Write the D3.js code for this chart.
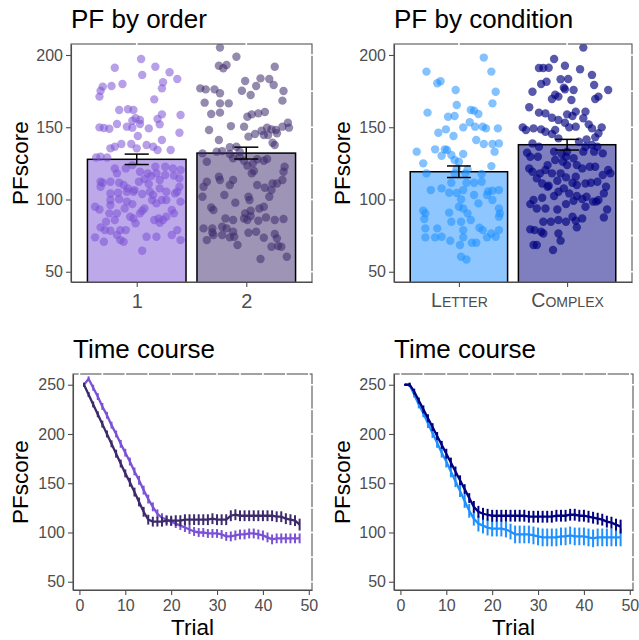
<!DOCTYPE html>
<meta charset="utf-8">
<style>
body { margin: 0; background: #fff; }
svg text { font-family: "Liberation Sans", Arial, sans-serif; }
.tick text { fill: #4d4d4d; }
.tick line, .domain { stroke: #4d4d4d; stroke-width: 1.1; }
</style>
<body>
<script src="https://d3js.org/d3.v7.min.js"></script>
<script>
// ---- bar panels ----
var orderCats = ["1", "2"];
var orderMeans = [127.8, 132.1];
var orderSE = [3.6, 4.1];
var orderColors = ["#7b52d6", "#3d2a6b"];

var condCats = ["Letter", "Complex"];
var condMeans = [119.2, 137.9];
var condSE = [4.0, 3.7];
var condColors = ["#1e90ff", "#000080"];

// jittered individual scores: [offset in category widths, PFscore]
var order1Pts = [[0.04,197.2],[-0.20,191.2],[0.17,191.9],[0.05,186.2],[0.30,188.0],[0.37,183.4],[-0.33,175.3],[-0.31,178.1],
  [-0.23,178.5],[-0.13,179.9],[0.24,181.1],[0.23,176.9],[-0.34,171.2],[0.16,169.3],[-0.16,161.9],[-0.08,162.4],[-0.03,161.9],
  [-0.01,156.2],[-0.04,154.5],[0.03,155.0],[-0.09,150.4],[0.03,152.2],[-0.34,149.9],[-0.30,149.5],[-0.25,149.0],[-0.18,152.2],
  [-0.04,149.7],[0.19,155.7],[0.21,152.0],[0.23,158.9],[0.40,158.5],[0.01,143.9],[0.11,149.2],[0.23,141.2],[0.39,146.2],
  [-0.24,135.4],[-0.20,136.5],[-0.14,138.4],[-0.05,138.4],[0.00,135.4],[0.09,137.7],[0.15,136.5],[0.19,134.2],[0.31,134.2],
  [-0.37,129.1],[-0.33,129.6],[-0.27,129.1],[-0.20,121.5],[-0.18,118.1],[-0.10,121.5],[-0.04,123.8],[0.03,119.2],[0.10,118.1],
  [0.17,122.7],[0.18,118.1],[0.26,122.7],[0.33,121.5],[0.40,120.4],[-0.33,112.3],[-0.31,111.6],[-0.24,112.3],[-0.16,111.6],
  [-0.12,110.0],[-0.08,107.7],[-0.02,106.5],[0.02,112.3],[0.07,114.1],[0.11,110.7],[0.13,116.2],[0.21,113.5],[0.26,116.9],
  [0.34,116.5],[0.39,114.6],[-0.33,108.8],[-0.24,104.2],[-0.17,104.7],[-0.09,105.4],[-0.03,105.4],[0.05,103.8],[0.12,105.4],
  [0.15,103.1],[0.21,107.7],[0.27,105.4],[0.35,104.2],[0.39,108.8],[0.37,105.4],[-0.24,99.6],[-0.24,96.1],[-0.16,100.1],
  [-0.09,98.5],[-0.04,96.8],[0.07,93.8],[0.14,99.6],[0.18,97.3],[0.23,99.6],[0.27,99.6],[0.32,92.7],[0.40,98.5],[-0.38,95.0],
  [-0.34,93.1],[-0.25,90.4],[-0.18,90.4],[-0.11,93.8],[-0.06,88.1],[0.03,90.4],[0.05,92.2],[0.20,86.9],[0.21,83.9],[0.27,88.1],
  [0.34,90.4],[-0.28,84.6],[-0.20,85.8],[-0.03,86.9],[-0.15,78.8],[-0.10,78.8],[-0.01,83.5],[0.16,85.8],[0.24,85.8],
  [-0.33,80.7],[-0.29,78.8],[-0.24,78.4],[-0.18,75.4],[-0.15,71.9],[-0.12,70.8],[0.09,74.2],[0.18,74.2],[0.37,78.8],
  [0.32,75.4],[0.40,71.9],[-0.38,73.8],[-0.30,70.8],[0.05,64.5]];

var order2Pts = [[-0.24,205.1],[-0.18,193.1],[-0.09,198.8],[-0.25,192.6],[-0.21,190.8],[0.26,191.9],[-0.01,182.0],[0.13,183.8],
  [0.21,183.4],[0.25,179.2],[-0.42,176.9],[-0.37,176.2],[-0.24,173.5],[-0.29,176.2],[-0.04,175.3],[0.04,172.3],[0.09,178.5],
  [0.34,175.1],[0.33,168.4],[-0.38,167.0],[-0.24,166.5],[-0.16,166.5],[-0.32,159.2],[-0.24,160.1],[-0.14,150.8],[-0.02,150.4],
  [0.01,157.3],[0.05,158.9],[0.11,159.6],[0.17,160.5],[0.19,149.7],[0.23,148.5],[0.27,148.1],[0.28,145.8],[0.33,150.4],
  [0.38,153.1],[0.39,149.7],[-0.34,148.1],[-0.25,141.2],[-0.15,136.1],[-0.09,136.5],[-0.06,133.1],[0.02,143.5],[0.08,145.3],
  [0.14,147.6],[0.16,144.6],[0.20,144.6],[0.24,139.3],[0.26,137.7],[-0.40,131.9],[-0.36,126.1],[-0.27,133.1],[-0.22,133.5],
  [-0.15,131.5],[-0.12,128.5],[-0.06,129.6],[-0.02,126.8],[0.01,123.4],[0.06,125.0],[0.10,127.8],[0.16,126.8],[0.19,128.0],
  [0.07,119.7],[0.05,118.1],[-0.36,112.3],[-0.39,108.8],[-0.25,115.8],[-0.24,113.5],[-0.15,110.0],[-0.12,113.5],[0.10,110.0],
  [0.17,108.1],[0.24,111.1],[0.28,111.1],[0.33,113.5],[0.35,122.7],[0.34,119.2],[-0.40,101.9],[-0.32,94.5],[-0.30,92.7],
  [-0.20,103.1],[-0.10,97.8],[0.02,101.9],[0.03,99.6],[0.04,92.2],[0.12,93.8],[0.16,95.0],[0.21,101.9],[0.23,106.5],
  [-0.19,86.9],[-0.12,85.8],[-0.01,90.4],[0.01,85.8],[-0.02,86.9],[0.04,88.5],[0.11,85.3],[0.18,87.6],[0.26,85.8],[0.34,86.5],
  [-0.39,80.0],[-0.36,71.9],[-0.31,80.0],[-0.31,77.2],[-0.22,81.1],[-0.18,80.0],[-0.12,77.7],[-0.11,74.2],[-0.08,68.5],
  [-0.30,75.4],[-0.22,75.4],[-0.15,73.8],[0.02,77.0],[0.09,77.7],[0.16,73.5],[0.26,76.1],[0.28,73.1],[0.29,67.8],[0.23,67.3],
  [0.32,67.3],[0.37,60.4],[0.13,58.8]];

var letterPts = [[-0.39,133.1],[-0.30,188.5],[-0.29,160.1],[-0.20,180.4],[-0.17,181.8],[-0.19,146.2],[-0.22,134.7],[-0.33,125.0],
  [-0.30,118.1],[-0.26,106.5],[-0.33,92.2],[-0.31,90.4],[-0.32,86.5],[-0.31,80.0],[-0.31,73.8],[-0.22,73.8],[-0.20,80.0],
  [-0.16,74.2],[-0.08,71.5],[-0.16,107.7],[-0.07,111.6],[-0.04,118.1],[-0.02,121.5],[-0.02,104.5],[-0.09,104.7],[0.02,100.1],
  [0.04,106.5],[0.07,111.6],[0.06,118.1],[0.08,120.8],[0.14,111.6],[0.21,117.6],[0.21,112.3],[0.27,105.6],[0.31,106.1],
  [0.37,106.5],[0.14,103.1],[0.18,97.3],[0.26,103.1],[0.31,99.6],[0.37,93.8],[0.38,90.4],[0.37,88.1],[0.19,80.5],[0.22,78.8],
  [0.30,76.5],[0.26,73.8],[0.34,74.2],[0.37,78.8],[-0.07,84.6],[0.02,84.6],[0.04,78.8],[0.04,73.8],[0.08,90.4],[0.11,85.8],
  [0.04,93.8],[0.00,95.0],[0.12,70.1],[0.16,70.1],[0.01,68.5],[0.02,60.4],[0.07,58.5],[0.16,141.2],[0.22,150.4],[0.25,149.2],
  [0.23,138.4],[0.31,138.4],[0.37,138.8],[0.36,149.2],[0.33,133.1],[0.30,123.1],[0.23,198.2],[0.30,188.5],[0.34,174.6],
  [0.31,166.5],[0.18,159.2],[0.14,161.5],[0.11,161.9],[0.15,150.4],[0.10,153.4],[0.04,149.9],[0.04,131.5],[0.00,126.1],
  [-0.04,127.3],[-0.07,130.8],[-0.11,134.2],[-0.13,134.7],[-0.16,130.3],[-0.03,175.8],[-0.02,165.4],[-0.04,157.8],
  [-0.10,157.3],[-0.12,148.5],[-0.05,143.9],[-0.09,90.9]];

var complexPts = [[0.15,205.1],[-0.12,197.2],[-0.02,192.6],[0.12,190.1],[-0.22,191.0],[-0.26,191.0],[-0.17,191.2],[-0.32,174.6],
  [-0.24,179.9],[-0.19,181.5],[-0.06,183.2],[0.01,183.4],[-0.03,177.4],[-0.02,176.2],[0.06,175.8],[0.23,186.2],[0.25,179.2],
  [0.38,175.8],[0.26,169.5],[0.29,171.2],[-0.14,169.5],[-0.11,172.5],[-0.08,171.2],[0.04,168.8],[-0.35,163.8],[-0.26,160.1],
  [-0.20,159.6],[-0.14,156.6],[-0.08,155.0],[0.00,158.9],[0.05,157.8],[0.08,160.8],[0.17,160.8],[-0.41,149.9],[-0.38,148.1],
  [-0.31,149.2],[-0.24,148.5],[-0.20,146.9],[-0.11,148.1],[-0.02,153.1],[0.02,149.9],[0.08,150.4],[0.15,156.2],[0.20,152.0],
  [0.23,149.2],[0.29,145.8],[0.32,149.9],[0.18,141.6],[0.26,143.0],[-0.37,132.4],[-0.34,129.6],[-0.27,129.6],[-0.18,123.8],
  [-0.12,133.1],[-0.05,131.5],[-0.01,129.6],[0.00,133.1],[0.06,128.5],[0.15,133.1],[0.23,137.7],[0.25,133.1],[0.28,136.5],
  [0.33,131.9],[0.38,120.4],[0.40,118.1],[0.33,116.9],[0.26,122.7],[0.21,122.7],[0.14,121.5],[0.09,123.8],[0.00,123.8],
  [-0.04,126.1],[-0.11,127.3],[-0.14,118.1],[-0.20,120.4],[-0.25,118.1],[-0.32,119.2],[-0.35,121.5],[-0.28,114.6],[-0.23,111.1],
  [-0.17,109.5],[-0.09,113.0],[-0.01,115.3],[0.05,111.6],[0.09,110.0],[0.17,111.1],[0.22,111.6],[0.28,112.3],[0.36,108.8],
  [0.34,104.2],[0.29,99.6],[0.24,98.5],[0.18,101.9],[0.14,100.3],[0.09,102.4],[0.02,104.2],[-0.03,107.7],[-0.08,105.4],
  [-0.12,102.4],[-0.18,108.8],[-0.23,101.2],[-0.31,99.6],[-0.34,96.8],[-0.28,93.8],[-0.20,93.8],[-0.09,93.1],[-0.01,96.8],
  [0.06,99.1],[0.17,95.0],[0.27,98.5],[0.37,93.1],[0.34,87.6],[0.05,88.1],[0.08,85.3],[-0.01,84.6],[-0.08,85.8],[-0.15,84.6],
  [-0.22,84.6],[-0.34,79.3],[-0.30,78.8],[-0.24,77.7],[-0.22,76.5],[-0.08,76.5],[-0.06,71.5],[0.09,80.7],[0.14,86.9],
  [-0.31,68.5],[-0.28,68.5],[-0.13,65.0],[0.08,115.8],[-0.06,118.1],[-0.32,138.8],[-0.26,136.5],[-0.14,145.3],[-0.08,142.3],
  [0.11,140.0],[0.17,136.5]];

// ---- time course ----
var trials = d3.range(1, 49);
var order1Curve = [250,256,247,238,228,219,209,200,190,181,172,162,153,143,134,126,119,115,113,111,109,107,105,103,
  101,100,100,99,99,99,98,96,96,97,98,98,99,99,98,97,95,93,94,94,94,94,94,94];
var order1CurveSE = [2,2.5,3,3.5,3.5,3.5,3.5,3.5,4,4,4,4,4.5,4.5,4.5,4.5,4.5,4.5,4.5,4.5,4.5,4.5,4.5,4.5,4.5,4.5,4.5,4.5,
  4.5,4.5,4.5,4.5,5,5,5,5,5,5,5,5,5,5,5,5,5,5,5,5];
var order2Curve = [250,240,230,220,210,200,190,180,170,160,151,141,131,121,113,111,111,111,112,112,112,112,113,113,
  113,113,113,113,114,113,113,113,117,118,117,117,117,117,117,117,117,117,116,116,114,113,112,108];
var order2CurveSE = [2,2.5,3,3,3.5,3.5,3.5,4,4,4,4.5,4.5,4.5,5,5,5,5,5,5,5,5.5,5.5,5.5,5.5,5.5,5.5,5.5,5.5,5.5,5.5,5.5,5.5,
  5.5,5.5,5.5,5.5,5.5,5.5,5.5,5.5,5.5,5.5,5.5,5.5,5.5,5.5,5.5,6];
var letterCurve = [250,250,240,230,221,211,201,191,181,172,162,152,142,132,122,114,109,107,105,104,104,104,103,101,
  98,98,98,98,97,96,95,95,95,95,96,96,97,96,96,96,95,94,95,95,95,95,95,95];
var letterCurveSE = [1,2,3,4,4,5,5,5,5,6,6,6,6,7,7,7,8,8,8,8,8,8,8,8,9,9,9,9,9,9,9,9,9,9,9,9,9,9,9,9,9,9,9,9,9,9,9,9];
var complexCurve = [250,250,243,234,225,216,207,198,189,180,171,162,153,144,135,126,121,119,118,117,117,117,117,117,
  117,117,117,116,116,116,116,116,116,117,117,117,118,118,117,117,116,115,114,113,111,110,108,106];
var complexCurveSE = [1,2,3,3,4,4,4,4,4,5,5,5,5,5,5,6,6,6,6,6,6,6,6,6,6,6,6,6,6,6,6,6,6,6,6,6,6,6,6,6,6,6,6,6,6,6,6,7];

var svg = d3.select("body").append("svg")
    .attr("width", 639)
    .attr("height", 640);
var defs = svg.append("defs");

function makeClip(id, box) {
  defs.append("clipPath").attr("id", id)
    .append("rect")
      .attr("x", box.x0).attr("y", box.y0)
      .attr("width", box.x1 - box.x0).attr("height", box.y1 - box.y0);
}

// panel outline with little white gaps where the grid meets the top and right edges
function border(box, gx, gy) {
  svg.append("rect")
      .attr("x", box.x0).attr("y", box.y0)
      .attr("width", box.x1 - box.x0).attr("height", box.y1 - box.y0)
      .attr("fill", "none").attr("stroke", "#555").attr("stroke-width", 1.1);
  svg.selectAll(null).data(gx).enter().append("line")
      .attr("x1", function(d) { return d; }).attr("x2", function(d) { return d; })
      .attr("y1", box.y0 - 1.5).attr("y2", box.y0 + 1.5)
      .attr("stroke", "#fff").attr("stroke-width", 1.6);
  svg.selectAll(null).data(gy).enter().append("line")
      .attr("y1", function(d) { return d; }).attr("y2", function(d) { return d; })
      .attr("x1", box.x1 - 1.5).attr("x2", box.x1 + 1.5)
      .attr("stroke", "#fff").attr("stroke-width", 1.6);
}

function labels(box, title, titleY, ylabX, xlab) {
  svg.append("text")
      .attr("x", box.x0).attr("y", titleY)
      .style("font-size", "26px").attr("fill", "#000")
      .text(title);
  svg.append("text")
      .attr("transform", "translate(" + ylabX + "," + ((box.y0 + box.y1) / 2) + ") rotate(-90)")
      .style("text-anchor", "middle").style("font-size", "22.5px").attr("fill", "#000")
      .text("PFscore");
  if (xlab) {
    svg.append("text")
        .attr("x", (box.x0 + box.x1) / 2).attr("y", 635)
        .style("text-anchor", "middle").style("font-size", "22.5px").attr("fill", "#000")
        .text(xlab);
  }
}

function barPanel(box, id, title, ylabX, cats, means, se, pts, colors, smallCaps) {
  var x = d3.scalePoint().domain(cats).range([box.x0, box.x1]).padding(0.6);
  var step = x.step();
  var y = d3.scaleLinear().domain([42.9, 207.6]).range([box.y1, box.y0]);
  makeClip(id, box);

  var g = svg.append("g").attr("clip-path", "url(#" + id + ")");
  g.append("rect")
      .attr("x", box.x0).attr("y", box.y0)
      .attr("width", box.x1 - box.x0).attr("height", box.y1 - box.y0)
      .attr("fill", "#fff");

  g.selectAll(".bar").data(cats).enter().append("rect")
      .attr("x", function(d) { return x(d) - 0.45 * step; })
      .attr("width", 0.9 * step)
      .attr("y", function(d, i) { return y(means[i]); })
      .attr("height", function(d, i) { return y(0) - y(means[i]); })
      .attr("fill", function(d, i) { return colors[i]; })
      .attr("fill-opacity", 0.5)
      .attr("stroke", "#000").attr("stroke-width", 1.5);

  cats.forEach(function(c, i) {
    g.selectAll(null).data(pts[i]).enter().append("circle")
        .attr("cx", function(d) { return x(c) + d[0] * step; })
        .attr("cy", function(d) { return y(d[1]); })
        .attr("r", 4.2)
        .attr("fill", colors[i])
        .attr("fill-opacity", colors[i] == "#000080" ? 0.65 : 0.55);
  });

  var cap = 0.11 * step;
  cats.forEach(function(c, i) {
    var lo = y(means[i] - se[i]), hi = y(means[i] + se[i]);
    var eb = g.append("g").attr("stroke", "#000").attr("stroke-width", 1.5);
    eb.append("line").attr("x1", x(c)).attr("x2", x(c)).attr("y1", lo).attr("y2", hi);
    eb.append("line").attr("x1", x(c) - cap).attr("x2", x(c) + cap).attr("y1", lo).attr("y2", lo);
    eb.append("line").attr("x1", x(c) - cap).attr("x2", x(c) + cap).attr("y1", hi).attr("y2", hi);
  });

  border(box, cats.map(x), [50, 75, 100, 125, 150, 175, 200].map(y));

  svg.append("g")
      .attr("transform", "translate(" + box.x0 + ",0)")
      .call(d3.axisLeft(y).tickValues([50, 100, 150, 200]).tickSize(5).tickPadding(3).tickSizeOuter(0))
      .selectAll("text").style("font-size", "16px");

  var xa = svg.append("g")
      .attr("transform", "translate(0," + box.y1 + ")")
      .call(d3.axisBottom(x).tickSize(5).tickPadding(smallCaps ? 6 : 7).tickSizeOuter(0));
  xa.selectAll("text")
      .style("font-size", smallCaps ? "19.5px" : "20px")
      .style("font-variant", smallCaps ? "small-caps" : "normal");

  labels(box, title, 28, ylabX, null);
}

function linePanel(box, id, ylabX, curves, ses, colors) {
  var x = d3.scaleLinear().domain([-1.4, 50.7]).range([box.x0, box.x1]);
  var y = d3.scaleLinear().domain([41.6, 260.9]).range([box.y1, box.y0]);
  makeClip(id, box);

  var g = svg.append("g").attr("clip-path", "url(#" + id + ")");
  g.append("rect")
      .attr("x", box.x0).attr("y", box.y0)
      .attr("width", box.x1 - box.x0).attr("height", box.y1 - box.y0)
      .attr("fill", "#fff");

  var line = d3.line()
      .x(function(d, i) { return x(trials[i]); })
      .y(function(d) { return y(d); });

  curves.forEach(function(c, k) {
    g.append("path")
        .attr("d", line(c))
        .attr("fill", "none")
        .attr("stroke", colors[k]).attr("stroke-width", 2.3);
    g.selectAll(null).data(c).enter().append("line")
        .attr("x1", function(d, i) { return x(trials[i]); })
        .attr("x2", function(d, i) { return x(trials[i]); })
        .attr("y1", function(d, i) { return y(d - ses[k][i]); })
        .attr("y2", function(d, i) { return y(d + ses[k][i]); })
        .attr("stroke", colors[k]).attr("stroke-width", 2);
  });

  border(box, d3.range(0, 51, 5).map(x), d3.range(50, 251, 25).map(y));

  svg.append("g")
      .attr("transform", "translate(" + box.x0 + ",0)")
      .call(d3.axisLeft(y).tickValues([50, 100, 150, 200, 250]).tickSize(5).tickPadding(3).tickSizeOuter(0))
      .selectAll("text").style("font-size", "16px");

  svg.append("g")
      .attr("transform", "translate(0," + box.y1 + ")")
      .call(d3.axisBottom(x).tickValues([0, 10, 20, 30, 40, 50]).tickSize(5).tickPadding(5).tickSizeOuter(0))
      .selectAll("text").style("font-size", "16px");

  labels(box, "Time course", 358, ylabX, "Trial");
}

barPanel({x0: 71, x1: 312, y0: 44, y1: 282}, "c1", "PF by order", 28,
  orderCats, orderMeans, orderSE, [order1Pts, order2Pts], orderColors, false);
barPanel({x0: 394, x1: 632, y0: 44, y1: 282}, "c2", "PF by condition", 350,
  condCats, condMeans, condSE, [letterPts, complexPts], condColors, true);
linePanel({x0: 73, x1: 312, y0: 374, y1: 590}, "c3", 28,
  [order1Curve, order2Curve], [order1CurveSE, order2CurveSE], orderColors);
linePanel({x0: 394, x1: 633, y0: 374, y1: 590}, "c4", 350,
  [letterCurve, complexCurve], [letterCurveSE, complexCurveSE], condColors);
</script>
</body>
</html>
